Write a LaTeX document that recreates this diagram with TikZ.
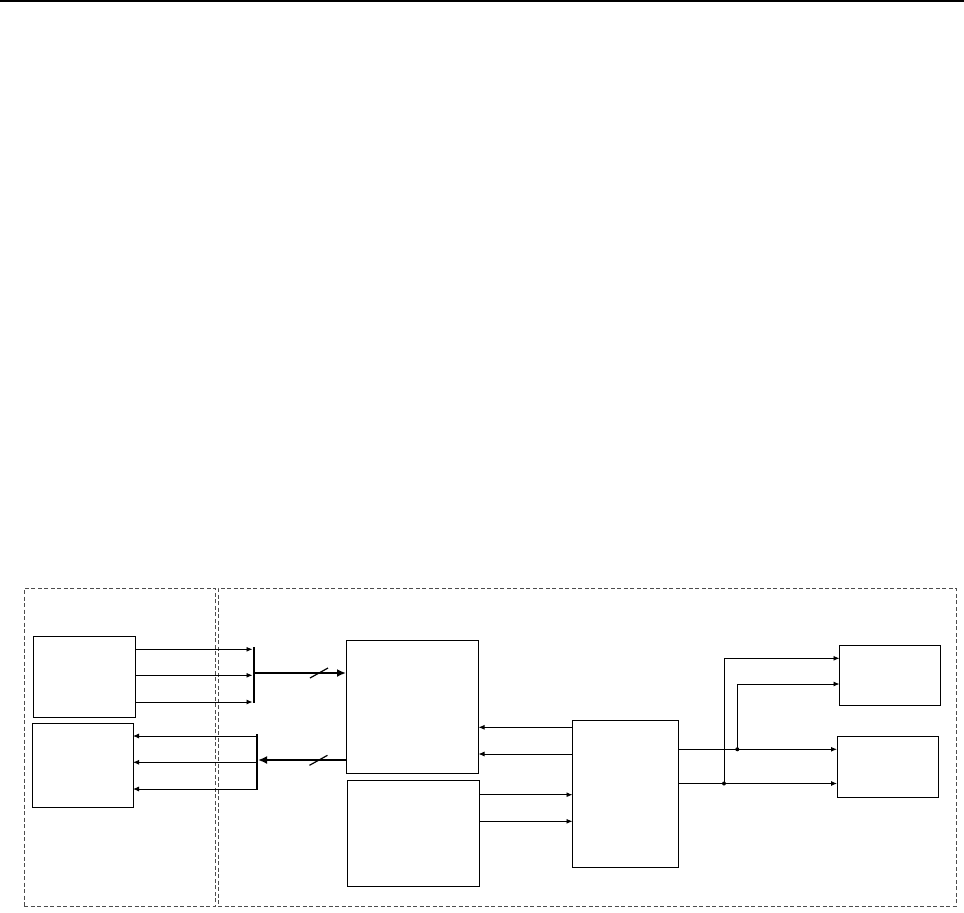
\documentclass[tikz,border=0pt]{standalone}
\usetikzlibrary{fit,arrows.meta}
\begin{document}
\begin{tikzpicture}[x=1pt,y=-1pt,
  box/.style={draw, line width=1pt, inner sep=0pt, outer sep=0pt},
  wire/.style={line width=0.9pt, -{Latex[length=6pt,width=5pt]}},
  bus/.style={line width=2pt, -{Latex[length=9pt,width=8pt]}},
  bar/.style={fill=black, draw=none, inner sep=0pt, outer sep=0pt, minimum width=2pt, minimum height=56pt},
  region/.style={draw=black!70, dash pattern=on 4pt off 2.5pt, line width=0.8pt, inner sep=0pt, outer sep=0pt},
  slash/.style={line width=1.2pt},
  jdot/.style={circle, fill=black, inner sep=0pt, minimum size=4pt}]
\useasboundingbox (0,0) rectangle (964,913);
% top rule
\draw[line width=2pt] (0,1) -- (964,1);
% dashed regions
\node[region, fit={(24,588)(215,906)}] (L) {};
\node[region, fit={(218,588)(956,906)}] (R) {};
% boxes
\node[box, fit={(33.5,636.5)(135,717)}] (A) {};
\node[box, fit={(32.5,723.5)(133,807)}] (B) {};
\node[box, fit={(346,640.5)(478.5,773)}] (C) {};
\node[box, fit={(347.5,780.5)(479.5,886)}] (D) {};
\node[box, fit={(572.5,720.5)(678.5,867)}] (E) {};
\node[box, fit={(839.5,645.5)(940.5,705)}] (G) {};
\node[box, fit={(837,736.5)(938.5,797)}] (F) {};
% bars
\node[bar] (bar1) at (253.5,675) {};
\node[bar] (bar2) at (257,762) {};
% y levels
\coordinate (y1) at (0,649.3);
\coordinate (y2) at (0,675.3);
\coordinate (y3) at (0,702);
\coordinate (y4) at (0,736);
\coordinate (y5) at (0,762.3);
\coordinate (y6) at (0,789);
\coordinate (yb1) at (0,673);
\coordinate (yb2) at (0,760);
\coordinate (y7) at (0,727.3);
\coordinate (y8) at (0,754);
\coordinate (y9) at (0,794.7);
\coordinate (y10) at (0,821.3);
\coordinate (y11) at (0,749.3);
\coordinate (y12) at (0,783.5);
\coordinate (y13) at (0,658.3);
\coordinate (y14) at (0,684);
% A -> bar1
\draw[wire] (A.east |- y1) -- (bar1.west |- y1);
\draw[wire] (A.east |- y2) -- (bar1.west |- y2);
\draw[wire] (A.east |- y3) -- (bar1.west |- y3);
% bar2 -> B
\draw[wire] (bar2.west |- y4) -- (B.east |- y4);
\draw[wire] (bar2.west |- y5) -- (B.east |- y5);
\draw[wire] (bar2.west |- y6) -- (B.east |- y6);
% buses
\draw[bus] (bar1.east |- yb1) -- (C.west |- yb1);
\draw[bus] (C.west |- yb2) -- (bar2.east |- yb2);
\draw[slash] (310,678) -- (328,668);
\draw[slash] (309.5,765.3) -- (327.5,755.3);
% E -> C
\draw[wire] (E.west |- y7) -- (C.east |- y7);
\draw[wire] (E.west |- y8) -- (C.east |- y8);
% D -> E
\draw[wire] (D.east |- y9) -- (E.west |- y9);
\draw[wire] (D.east |- y10) -- (E.west |- y10);
% E -> F
\draw[wire] (E.east |- y11) -- (F.west |- y11);
\draw[wire] (E.east |- y12) -- (F.west |- y12);
% junctions
\node[jdot] (j1) at (737.3,749.3) {};
\node[jdot] (j2) at (724,783.5) {};
\draw[wire] (j2.center) |- (G.west |- y13);
\draw[wire] (j1.center) |- (G.west |- y14);
\end{tikzpicture}
\end{document}
